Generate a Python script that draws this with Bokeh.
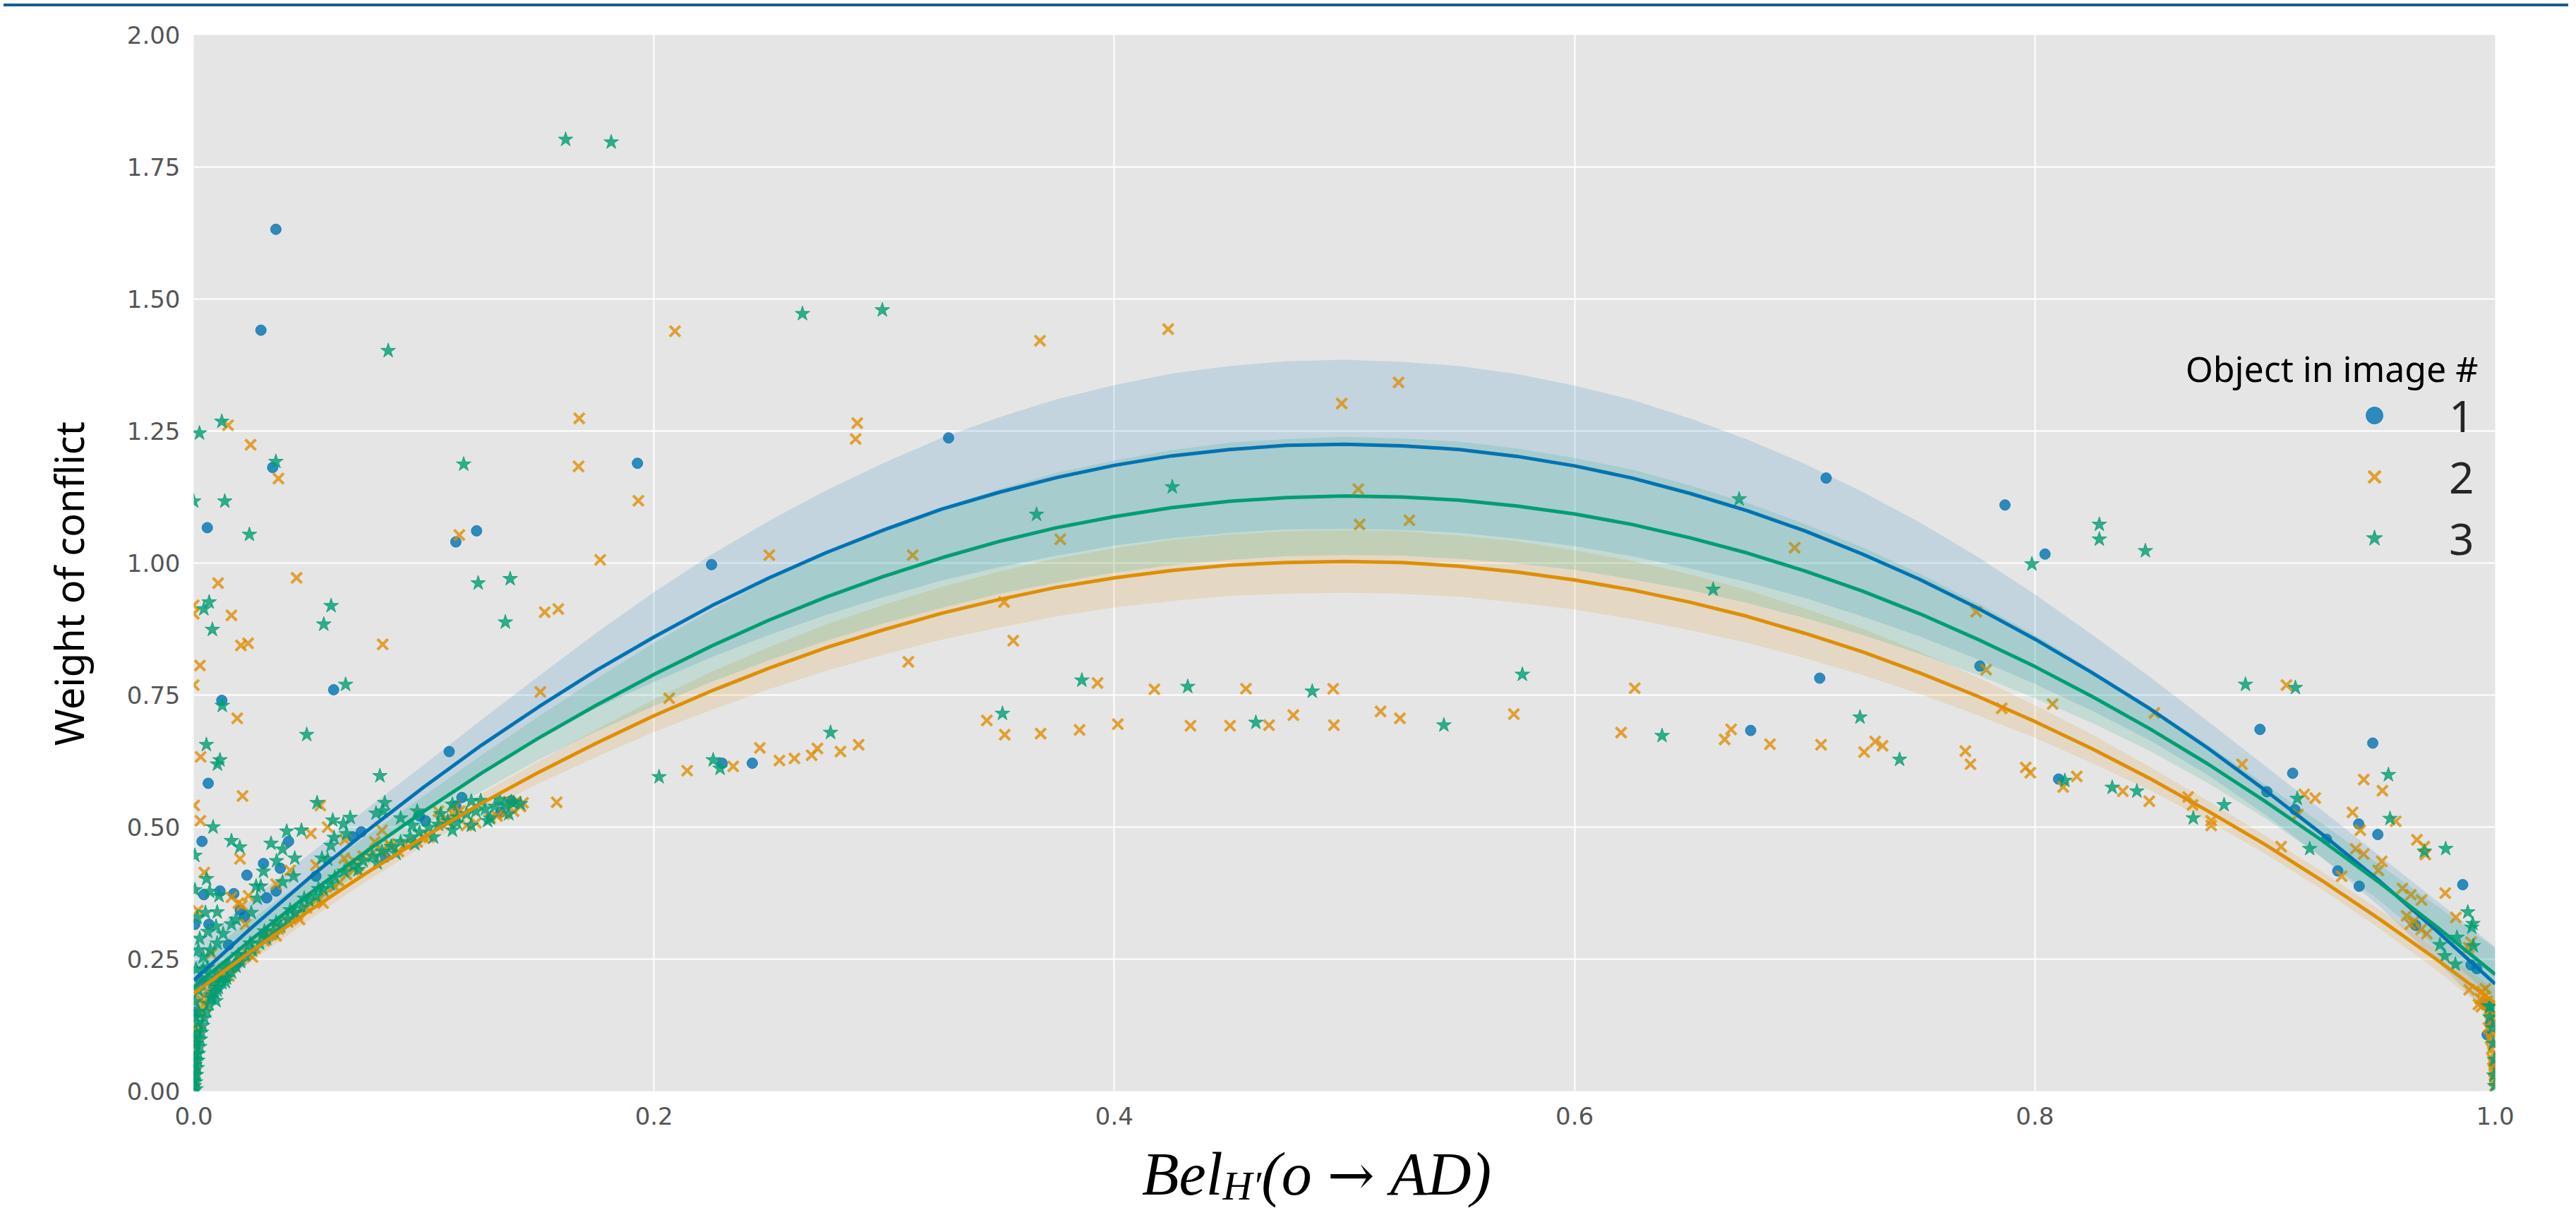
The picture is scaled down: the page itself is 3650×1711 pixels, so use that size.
from bokeh.plotting import figure
from bokeh.models import (Range1d, FixedTicker, NumeralTickFormatter, Label,
                          Legend, LegendItem, Div)
from bokeh.layouts import column
from bokeh.embed import file_html
from bokeh.resources import INLINE

# ---------------- data ----------------
# fitted order-2 regression curves and CI half widths
fit_x = [0.000, 0.025, 0.050, 0.075, 0.100, 0.125, 0.150, 0.175, 0.200, 0.225, 0.250,
         0.275, 0.300, 0.325, 0.350, 0.375, 0.400, 0.425, 0.450, 0.475, 0.500,
         0.525, 0.550, 0.575, 0.600, 0.625, 0.650, 0.675, 0.700, 0.725, 0.750,
         0.775, 0.800, 0.825, 0.850, 0.875, 0.900, 0.925, 0.950, 0.975, 1.000]
fit_1 = [0.210, 0.309, 0.403, 0.492, 0.576, 0.655, 0.728, 0.797, 0.860, 0.919, 0.972,
         1.020, 1.063, 1.102, 1.134, 1.162, 1.185, 1.203, 1.215, 1.223, 1.225,
         1.222, 1.215, 1.202, 1.184, 1.161, 1.132, 1.099, 1.061, 1.017, 0.969,
         0.915, 0.856, 0.792, 0.724, 0.650, 0.570, 0.486, 0.397, 0.302, 0.203]
fit_2 = [0.185, 0.265, 0.341, 0.413, 0.481, 0.545, 0.604, 0.659, 0.711, 0.758, 0.801,
         0.840, 0.874, 0.905, 0.931, 0.954, 0.972, 0.986, 0.996, 1.001, 1.003,
         1.001, 0.994, 0.983, 0.968, 0.949, 0.926, 0.899, 0.867, 0.832, 0.792,
         0.748, 0.700, 0.648, 0.592, 0.531, 0.467, 0.398, 0.325, 0.248, 0.167]
fit_3 = [0.197, 0.287, 0.373, 0.454, 0.530, 0.602, 0.669, 0.731, 0.789, 0.843, 0.892,
         0.936, 0.975, 1.010, 1.041, 1.067, 1.088, 1.105, 1.117, 1.124, 1.127,
         1.125, 1.119, 1.108, 1.093, 1.073, 1.048, 1.019, 0.985, 0.947, 0.904,
         0.856, 0.804, 0.747, 0.686, 0.620, 0.549, 0.474, 0.394, 0.310, 0.221]
ci_1 = [0.065, 0.054, 0.045, 0.042, 0.042, 0.048, 0.058, 0.071, 0.085, 0.097, 0.108,
        0.118, 0.127, 0.135, 0.142, 0.148, 0.152, 0.156, 0.158, 0.159, 0.160,
        0.159, 0.158, 0.156, 0.152, 0.148, 0.142, 0.135, 0.127, 0.118, 0.108,
        0.097, 0.085, 0.072, 0.060, 0.051, 0.046, 0.045, 0.048, 0.057, 0.070]
ci_2 = [0.024, 0.020, 0.017, 0.016, 0.016, 0.018, 0.021, 0.026, 0.031, 0.036, 0.040,
        0.044, 0.047, 0.050, 0.053, 0.055, 0.056, 0.058, 0.058, 0.059, 0.059,
        0.059, 0.058, 0.058, 0.056, 0.055, 0.053, 0.050, 0.047, 0.044, 0.040,
        0.036, 0.031, 0.027, 0.022, 0.019, 0.017, 0.017, 0.018, 0.021, 0.026]
ci_3 = [0.046, 0.038, 0.032, 0.029, 0.029, 0.034, 0.041, 0.050, 0.060, 0.068, 0.076,
        0.083, 0.089, 0.095, 0.099, 0.104, 0.106, 0.109, 0.111, 0.111, 0.112,
        0.111, 0.111, 0.109, 0.106, 0.104, 0.099, 0.095, 0.089, 0.083, 0.076,
        0.068, 0.060, 0.050, 0.042, 0.036, 0.032, 0.032, 0.034, 0.040, 0.049]

# object 1 (blue circles)
obj1_high = [(0.0357, 1.632), (0.0292, 1.441), (0.0343, 1.181), (0.1928, 1.189), (0.0059, 1.067),
             (0.1139, 1.040), (0.1229, 1.061), (0.2250, 0.997), (0.3280, 1.237), (0.0608, 0.760),
             (0.0122, 0.740), (0.1110, 0.643), (0.7093, 1.161), (0.7870, 1.110), (0.8044, 1.017)]
obj1_left = [(0.2296, 0.621), (0.2427, 0.621), (0.0063, 0.583), (0.0036, 0.473), (0.0412, 0.473),
             (0.0303, 0.431), (0.0376, 0.422), (0.0231, 0.409), (0.0114, 0.379), (0.0044, 0.372),
             (0.0174, 0.374), (0.0317, 0.366), (0.0358, 0.379), (0.0202, 0.343), (0.0220, 0.330),
             (0.0005, 0.316), (0.0066, 0.316), (0.0151, 0.277), (0.0189, 0.242), (0.0307, 0.296),
             (0.0728, 0.491), (0.0693, 0.481), (0.0833, 0.443), (0.0531, 0.407), (0.0981, 0.521),
             (0.1007, 0.512), (0.1165, 0.556), (0.1139, 0.540), (0.1380, 0.550), (0.1334, 0.528),
             (0.0003, 0.040), (0.0006, 0.090), (0.0010, 0.150), (0.0030, 0.210)]
obj1_right = [(0.7065, 0.782), (0.6765, 0.683), (0.7761, 0.805), (0.8103, 0.591), (0.8978, 0.685),
              (0.9120, 0.602), (0.9008, 0.567), (0.9130, 0.533), (0.9267, 0.477), (0.9468, 0.659),
              (0.9407, 0.506), (0.9490, 0.486), (0.9316, 0.417), (0.9409, 0.388), (0.9654, 0.314),
              (0.9859, 0.391), (0.9895, 0.239), (0.9920, 0.232), (0.9956, 0.164), (0.9980, 0.130),
              (0.9965, 0.107), (0.9995, 0.050)]

# object 2 (orange crosses)
obj2_high = [(0.2091, 1.439), (0.3677, 1.421), (0.4234, 1.443), (0.5235, 1.342), (0.4988, 1.302),
             (0.1675, 1.274), (0.0149, 1.261), (0.0247, 1.224), (0.2883, 1.265), (0.2876, 1.235),
             (0.0368, 1.160), (0.1672, 1.183), (0.1932, 1.118), (0.1154, 1.053), (0.5060, 1.140),
             (0.5066, 1.073), (0.5282, 1.081), (0.1766, 1.006), (0.2501, 1.015), (0.3124, 1.015),
             (0.3765, 1.045), (0.6956, 1.029), (0.0106, 0.962), (0.0447, 0.972), (0.0000, 0.920),
             (0.0000, 0.904), (0.0164, 0.901), (0.1525, 0.907), (0.1584, 0.913), (0.0205, 0.844),
             (0.0236, 0.848), (0.0821, 0.846), (0.0027, 0.806), (0.0000, 0.769), (0.1506, 0.756),
             (0.0189, 0.706), (0.2066, 0.744), (0.0030, 0.633), (0.3521, 0.926), (0.3561, 0.853),
             (0.3105, 0.813), (0.7745, 0.908)]
obj2_mid = [(0.2344, 0.615), (0.2144, 0.607), (0.2460, 0.650), (0.2545, 0.626), (0.2610, 0.630),
            (0.2685, 0.636), (0.2710, 0.649), (0.2810, 0.643), (0.2889, 0.656), (0.1577, 0.547),
            (0.3927, 0.773), (0.4174, 0.761), (0.4572, 0.762), (0.4951, 0.762), (0.6261, 0.763),
            (0.3446, 0.702), (0.3524, 0.675), (0.3680, 0.677), (0.3849, 0.684), (0.4015, 0.695),
            (0.4331, 0.692), (0.4503, 0.692), (0.4672, 0.693), (0.4778, 0.712), (0.4954, 0.693),
            (0.5157, 0.719), (0.5241, 0.706), (0.5736, 0.714), (0.6202, 0.679), (0.6652, 0.666),
            (0.6680, 0.685), (0.6849, 0.657), (0.7071, 0.656), (0.7258, 0.642), (0.7306, 0.662),
            (0.7338, 0.654), (0.7698, 0.644), (0.7720, 0.619), (0.7960, 0.613), (0.7980, 0.603),
            (0.8123, 0.576), (0.8182, 0.596), (0.7788, 0.798), (0.7856, 0.725), (0.8077, 0.733),
            (0.8519, 0.716), (0.9093, 0.769)]
obj2_right = [(0.8382, 0.568), (0.8497, 0.549), (0.8666, 0.557), (0.8685, 0.542), (0.8766, 0.512),
              (0.8766, 0.503), (0.8900, 0.619), (0.9170, 0.562), (0.9218, 0.555), (0.9143, 0.524),
              (0.9070, 0.463), (0.9429, 0.590), (0.9510, 0.569), (0.9380, 0.528), (0.9568, 0.511),
              (0.9414, 0.494), (0.9394, 0.459), (0.9429, 0.449), (0.9507, 0.435), (0.9492, 0.418),
              (0.9333, 0.407), (0.9660, 0.476), (0.9692, 0.463), (0.9697, 0.448), (0.9783, 0.375),
              (0.9597, 0.384), (0.9634, 0.372), (0.9680, 0.362), (0.9615, 0.332), (0.9649, 0.322),
              (0.9631, 0.316), (0.9678, 0.306), (0.9703, 0.298), (0.9829, 0.329), (0.9895, 0.282),
              (0.9885, 0.272), (0.9887, 0.192), (0.9943, 0.189), (0.9927, 0.164), (0.9958, 0.194),
              (0.9965, 0.170), (0.9955, 0.180), (0.9940, 0.160), (0.9935, 0.175), (0.9975, 0.155),
              (0.9982, 0.140), (0.9975, 0.150), (0.9980, 0.130), (0.9970, 0.120), (0.9985, 0.110),
              (0.9980, 0.100), (0.9990, 0.090), (0.9985, 0.080), (0.9992, 0.070), (0.9990, 0.060),
              (0.9995, 0.050), (0.9993, 0.040), (0.9997, 0.030), (0.9996, 0.020), (0.9999, 0.010)]
obj2_left = [(0.0212, 0.559), (0.0002, 0.541), (0.0550, 0.541), (0.0029, 0.512), (0.0201, 0.440),
             (0.0509, 0.488), (0.0582, 0.500), (0.0657, 0.476), (0.0046, 0.414), (0.0419, 0.418),
             (0.0531, 0.428), (0.0654, 0.441), (0.0695, 0.436), (0.0164, 0.367), (0.0238, 0.370),
             (0.0358, 0.392), (0.0194, 0.356), (0.0210, 0.352), (0.0018, 0.342), (0.0225, 0.316),
             (0.0077, 0.260), (0.0128, 0.231), (0.0164, 0.234), (0.0061, 0.187), (0.0031, 0.173),
             (0.0051, 0.160)]
obj2_belt = [(0.0082, 0.196), (0.0112, 0.214), (0.0133, 0.222), (0.0204, 0.249), (0.0235, 0.260),
             (0.0266, 0.271), (0.0307, 0.285), (0.0337, 0.296), (0.0368, 0.307), (0.0409, 0.320),
             (0.0450, 0.334), (0.0490, 0.347), (0.0531, 0.361), (0.0572, 0.374), (0.0613, 0.387),
             (0.0634, 0.396), (0.0664, 0.410), (0.0695, 0.419), (0.0674, 0.427), (0.0715, 0.427),
             (0.0736, 0.445), (0.0777, 0.450), (0.0818, 0.454), (0.0858, 0.463), (0.0889, 0.454),
             (0.0920, 0.468), (0.0971, 0.472), (0.1001, 0.479), (0.1022, 0.481), (0.1073, 0.512),
             (0.1104, 0.508), (0.1124, 0.525), (0.1155, 0.530), (0.1185, 0.503), (0.1226, 0.508),
             (0.1288, 0.517), (0.1318, 0.521), (0.1349, 0.525), (0.1390, 0.530), (0.1420, 0.539),
             (0.1431, 0.546), (0.1400, 0.548), (0.1369, 0.548), (0.1063, 0.530), (0.1134, 0.539),
             (0.0787, 0.472), (0.0818, 0.494), (0.0848, 0.468), (0.0358, 0.294), (0.0460, 0.325),
             (0.0562, 0.356), (0.0153, 0.218), (0.0255, 0.254)]
obj2_zero = [(0.0004, 0.020), (0.0008, 0.050), (0.0012, 0.080), (0.0018, 0.110), (0.0025, 0.130),
             (0.0035, 0.150), (0.0045, 0.165), (0.0060, 0.175), (0.0002, 0.035), (0.0006, 0.065),
             (0.0010, 0.095), (0.0015, 0.120), (0.0001, 0.005)]

# object 3 (green stars)
obj3_high = [(0.1616, 1.802), (0.1814, 1.797), (0.0845, 1.402), (0.2645, 1.472), (0.2992, 1.479),
             (0.0122, 1.268), (0.0025, 1.246), (0.0357, 1.192), (0.1173, 1.187), (0.0000, 1.117),
             (0.0135, 1.117), (0.0242, 1.054), (0.1236, 0.962), (0.1375, 0.970), (0.0067, 0.926),
             (0.0044, 0.913), (0.0597, 0.919), (0.0565, 0.884), (0.1354, 0.888), (0.0081, 0.874),
             (0.0660, 0.770), (0.0124, 0.730), (0.0491, 0.675), (0.0055, 0.656), (0.0114, 0.627),
             (0.0103, 0.619), (0.0809, 0.597), (0.4252, 1.144), (0.3662, 1.092), (0.6715, 1.121),
             (0.6602, 0.950), (0.7987, 0.998), (0.8280, 1.073), (0.8280, 1.045), (0.8480, 1.023)]
obj3_mid = [(0.2257, 0.627), (0.2287, 0.611), (0.2022, 0.595), (0.3859, 0.778), (0.4319, 0.766),
            (0.4860, 0.757), (0.5773, 0.789), (0.3514, 0.715), (0.4615, 0.698), (0.5432, 0.693),
            (0.6380, 0.673), (0.2767, 0.679), (0.7240, 0.708), (0.8915, 0.770), (0.9132, 0.764),
            (0.7412, 0.628), (0.8130, 0.588), (0.8336, 0.575), (0.8443, 0.568), (0.8822, 0.542),
            (0.8688, 0.517)]
obj3_right = [(0.9140, 0.554), (0.9194, 0.459), (0.9536, 0.599), (0.9543, 0.516), (0.9692, 0.454),
              (0.9785, 0.459), (0.9881, 0.339), (0.9903, 0.317), (0.9898, 0.310), (0.9834, 0.291),
              (0.9905, 0.275), (0.9760, 0.277), (0.9781, 0.256), (0.9827, 0.240), (0.9977, 0.140),
              (0.9979, 0.161), (0.9995, 0.030), (0.9997, 0.060), (0.9992, 0.090), (0.9988, 0.120),
              (0.9998, 0.010), (0.9975, 0.160)]
obj3_left = [(0.0536, 0.546), (0.0084, 0.500), (0.0164, 0.474), (0.0200, 0.462), (0.0386, 0.458),
             (0.0336, 0.469), (0.0404, 0.492), (0.0468, 0.494), (0.0604, 0.513), (0.0650, 0.506),
             (0.0680, 0.518), (0.0830, 0.546), (0.0792, 0.526), (0.0823, 0.530), (0.0610, 0.480),
             (0.0596, 0.465), (0.0664, 0.487), (0.0005, 0.446), (0.0056, 0.402), (0.0360, 0.436),
             (0.0439, 0.441), (0.0303, 0.416), (0.0434, 0.407), (0.0557, 0.441), (0.0582, 0.439),
             (0.0069, 0.378), (0.0005, 0.381), (0.0271, 0.388), (0.0291, 0.388), (0.0386, 0.396),
             (0.0110, 0.370), (0.0051, 0.338), (0.0015, 0.329), (0.0102, 0.339), (0.0250, 0.338),
             (0.0276, 0.365), (0.0164, 0.316), (0.0184, 0.325), (0.0097, 0.312), (0.0026, 0.289),
             (0.0061, 0.302), (0.0128, 0.298), (0.0102, 0.280), (0.0020, 0.267), (0.0072, 0.267),
             (0.0041, 0.254), (0.0010, 0.231), (0.0061, 0.234), (0.0118, 0.213), (0.0138, 0.207),
             (0.0082, 0.206), (0.0102, 0.191), (0.0077, 0.182), (0.0097, 0.171)]
obj3_belt = [(0.0010, 0.004), (0.0008, 0.017), (0.0012, 0.031), (0.0015, 0.044), (0.0018, 0.058),
             (0.0020, 0.071), (0.0026, 0.084), (0.0029, 0.098), (0.0033, 0.111), (0.0039, 0.124),
             (0.0046, 0.138), (0.0056, 0.151), (0.0066, 0.165), (0.0077, 0.176), (0.0092, 0.187),
             (0.0107, 0.196), (0.0123, 0.205), (0.0143, 0.214), (0.0164, 0.225), (0.0184, 0.236),
             (0.0204, 0.245), (0.0061, 0.214), (0.0041, 0.231), (0.0020, 0.191), (0.0005, 0.169),
             (0.0102, 0.222), (0.0153, 0.240), (0.0225, 0.258), (0.0255, 0.267), (0.0286, 0.280),
             (0.0317, 0.289), (0.0347, 0.303), (0.0378, 0.312), (0.0409, 0.325), (0.0439, 0.338),
             (0.0470, 0.347), (0.0501, 0.361), (0.0531, 0.369), (0.0562, 0.383), (0.0593, 0.392),
             (0.0133, 0.231), (0.0194, 0.258), (0.0245, 0.280), (0.0307, 0.303), (0.0358, 0.320),
             (0.0419, 0.343), (0.0480, 0.365), (0.0542, 0.383), (0.0613, 0.405), (0.0654, 0.416),
             (0.0695, 0.427), (0.0736, 0.436), (0.0777, 0.445), (0.0818, 0.454), (0.0858, 0.463),
             (0.0899, 0.472), (0.0940, 0.481), (0.0981, 0.490), (0.1022, 0.499), (0.1063, 0.505),
             (0.1104, 0.512), (0.1144, 0.519), (0.1185, 0.525), (0.1226, 0.530), (0.1267, 0.534),
             (0.1308, 0.539), (0.1349, 0.542), (0.1390, 0.546), (0.1420, 0.544), (0.0715, 0.419),
             (0.0797, 0.432), (0.0879, 0.450), (0.0961, 0.468), (0.1042, 0.481), (0.1124, 0.494),
             (0.1206, 0.503), (0.1288, 0.517), (0.1369, 0.525), (0.0899, 0.517), (0.0971, 0.530),
             (0.1124, 0.543), (0.1206, 0.549), (0.1247, 0.550), (0.1328, 0.552), (0.1380, 0.548),
             (0.0950, 0.503), (0.1073, 0.525), (0.1144, 0.508), (0.1277, 0.512)]
obj3_zero = [(0.0003, 0.010), (0.0005, 0.030), (0.0006, 0.050), (0.0008, 0.070), (0.0010, 0.090),
             (0.0013, 0.110), (0.0017, 0.130), (0.0022, 0.150), (0.0003, 0.060), (0.0004, 0.100),
             (0.0007, 0.140), (0.0000, 0.000), (0.0001, 0.020)]

x_ticks = [0.0, 0.2, 0.4, 0.6, 0.8, 1.0]
y_ticks = [0.0, 0.25, 0.5, 0.75, 1.0, 1.25, 1.5, 1.75, 2.0]
legend_title = "Object in image #"
legend_labels = ["1", "2", "3"]
y_label = "Weight of conflict"
# x label Bel_{H'}(o -> AD) as text pieces: base, subscript, "(o", arrow, "AD)"
xlabel_parts = ["Bel", "H\u2032", "(o", "\u2192", "AD)"]

BLUE, ORANGE, GREEN = "#0173b2", "#de8f05", "#029e73"
NAN = float("nan")


def split(*groups):
    pts = [pt for g in groups for pt in g]
    return [a for a, _ in pts], [b for _, b in pts]


x1, y1 = split(obj1_high, obj1_left, obj1_right)
x2, y2 = split(obj2_high, obj2_mid, obj2_right, obj2_left, obj2_belt, obj2_zero)
x3, y3 = split(obj3_high, obj3_mid, obj3_right, obj3_left, obj3_belt, obj3_zero)

# ---------------- main figure ----------------
BL, BR = 274, 99
p = figure(width=3634, height=1601, x_range=Range1d(0, 1), y_range=Range1d(0, 2),
           output_backend="svg", toolbar_location=None,
           min_border_left=BL, min_border_right=BR, min_border_top=35,
           min_border_bottom=70)
p.background_fill_color = "#e5e5e5"
p.border_fill_color = "white"
p.outline_line_color = None

for ax in (p.xaxis[0], p.yaxis[0]):
    ax.axis_line_color = None
    ax.major_tick_line_color = None
    ax.minor_tick_line_color = None
    ax.major_tick_out = 0
    ax.major_tick_in = 0
    ax.major_label_text_font = "DejaVu Sans"
    ax.major_label_text_font_size = "34px"
    ax.major_label_text_color = "#555555"

p.xaxis.ticker = FixedTicker(ticks=x_ticks)
p.yaxis.ticker = FixedTicker(ticks=y_ticks)
p.xaxis.formatter = NumeralTickFormatter(format="0.0")
p.yaxis.formatter = NumeralTickFormatter(format="0.00")
p.xaxis.major_label_standoff = 22
p.yaxis.major_label_standoff = 19

p.yaxis.axis_label = y_label + "\u00a0" * 4
p.yaxis.axis_label_text_font = "Noto Sans"
p.yaxis.axis_label_text_font_size = "56px"
p.yaxis.axis_label_text_font_style = "normal"
p.yaxis.axis_label_text_color = "black"
p.yaxis.axis_label_standoff = 42

p.xgrid.grid_line_color = "white"
p.ygrid.grid_line_color = "white"
p.xgrid.grid_line_width = 2
p.ygrid.grid_line_width = 2

styles = [
    dict(marker="circle", fill_color=BLUE, fill_alpha=0.8, line_color=BLUE, line_alpha=0.8,
         line_width=1),
    dict(marker="x", line_color=ORANGE, line_alpha=0.8, line_width=4),
    dict(marker="star", fill_color=GREEN, fill_alpha=0.8, line_color=GREEN, line_alpha=0.8,
         line_width=1),
]
plot_sizes = [15, 21, 22]
legend_sizes = [24, 28, 30]
series = [(x1, y1, fit_1, ci_1, BLUE), (x2, y2, fit_2, ci_2, ORANGE), (x3, y3, fit_3, ci_3, GREEN)]

for (xs, ys, fit, ci, col), st, sz in zip(series, styles, plot_sizes):
    p.scatter(xs, ys, size=sz, **st)
    lo = [f - c for f, c in zip(fit, ci)]
    hi = [f + c for f, c in zip(fit, ci)]
    p.varea(x=fit_x, y1=lo, y2=hi, fill_color=col, fill_alpha=0.15)

for xs, ys, fit, ci, col in series:
    p.line(fit_x, fit, line_color=col, line_width=5)

# legend-only renderers (a single NaN point, never drawn in the plot) with larger markers
leg_renderers = []
for st, sz in zip(styles, legend_sizes):
    kw = dict(st)
    if kw["marker"] == "x":
        kw["line_width"] = 4.5
    leg_renderers.append(p.scatter(x=[NAN], y=[NAN], size=sz, **kw))

legend = Legend(items=[LegendItem(label=lab, renderers=[r], index=0)
                       for lab, r in zip(legend_labels, leg_renderers)],
                location=(3060, 740), orientation="vertical",
                glyph_width=60, glyph_height=60, label_height=87, label_standoff=76,
                spacing=0, padding=0, margin=0,
                background_fill_alpha=0, border_line_alpha=0,
                label_text_font="Noto Sans", label_text_font_size="62px",
                label_text_color="#262626")
p.add_layout(legend)

p.add_layout(Label(x=3237, y=1024, x_units="screen", y_units="screen", text=legend_title,
                   text_align="right", text_baseline="alphabetic", text_font="Noto Sans",
                   text_font_size="50px", text_color="black"))

# ---------------- x-axis label (HTML text below the plot) ----------------
xlabel_html = (
    '<div style="margin:0;padding:0 0 0 1613px;font-family:\'Liberation Serif\';'
    'font-size:86px;line-height:86px;font-style:italic;color:black;white-space:nowrap">'
    f'{xlabel_parts[0]}<span style="font-size:58px;position:relative;top:7px">{xlabel_parts[1]}</span>'
    f'{xlabel_parts[2]}<span style="font-family:\'DejaVu Serif\';font-style:normal;font-size:80px;'
    f'display:inline-block;margin:0 22px">{xlabel_parts[3]}</span>{xlabel_parts[4]}</div>'
)
xlabel_div = Div(text=xlabel_html, width=3634, height=90)

top_bar = Div(text="", width=3634, height=4, styles={"background-color": "#1a5b8c"})
layout = column(top_bar, p, xlabel_div, spacing=0)

open("out.html", "w").write(file_html(layout, INLINE))
